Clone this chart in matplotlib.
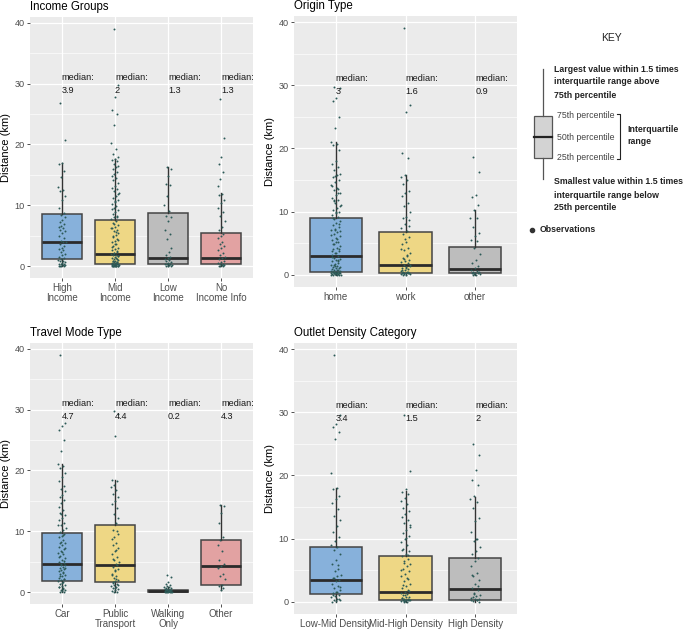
import matplotlib
matplotlib.use("Agg")
import matplotlib.pyplot as plt
from matplotlib.patches import Rectangle
from matplotlib.lines import Line2D
import numpy as np

plt.rcParams['font.family'] = ['Liberation Sans', 'DejaVu Sans']

# ---------------- data ----------------
income_cats = ["High\nIncome", "Mid\nIncome", "Low\nIncome", "No\nIncome Info"]
income_q1 = [1.1, 0.3, 0.3, 0.3]
income_med = [3.9, 2.0, 1.3, 1.3]
income_q3 = [8.5, 7.6, 8.7, 5.5]
income_lo = [0.0, 0.0, 0.0, 0.0]
income_hi = [17.0, 17.6, 16.3, 12.0]
income_obs = [
    [26.8, 20.7, 17.0, 16.8, 15.6, 14.6, 13.0, 12.5, 12.3, 11.6, 10.8, 9.5, 8.7, 8.4, 8.0, 7.6, 7.2, 7.0,
     6.6, 6.4, 6.2, 6.0, 5.8, 5.5, 5.0, 4.6, 4.2, 4.0, 3.9, 3.6, 3.3, 3.0, 2.8, 2.6, 2.3, 2.0, 1.8, 1.5,
     1.3, 1.1, 1.0, 0.9, 0.8, 0.6, 0.5, 0.4, 0.3, 0.3, 0.2, 0.2, 0.1, 0.1, 0.0, 0.0],
    [39.0, 29.7, 27.8, 25.7, 25.0, 23.2, 20.3, 19.3, 18.5, 17.9, 17.6, 17.4, 17.2, 16.8, 16.5, 16.3, 15.9,
     15.5, 15.2, 14.8, 14.5, 14.1, 13.6, 13.2, 12.9, 12.6, 12.3, 12.0, 11.6, 11.2, 10.9, 10.5, 10.2, 9.9,
     9.6, 9.2, 8.9, 8.6, 8.3, 8.0, 7.7, 7.4, 7.1, 6.8, 6.5, 6.2, 6.0, 5.7, 5.4, 5.1, 4.8, 4.5, 4.2, 3.9,
     3.6, 3.3, 3.0, 2.8, 2.6, 2.4, 2.2, 2.0, 1.9, 1.8, 1.6, 1.5, 1.4, 1.2, 1.1, 1.0, 0.9, 0.8, 0.7, 0.6,
     0.5, 0.5, 0.4, 0.4, 0.3, 0.3, 0.3, 0.2, 0.2, 0.2, 0.1, 0.1, 0.1, 0.0, 0.0, 0.0, 11.8, 10.7, 9.4,
     8.1, 7.0, 6.3, 5.6, 4.9, 4.3, 3.7, 3.1, 2.5, 2.1, 1.7, 1.3, 0.9, 0.6, 0.4, 0.2, 0.1, 0.0, 0.0],
    [16.3, 16.0, 14.8, 13.5, 13.4, 11.5, 10.0, 9.0, 8.3, 8.0, 7.4, 6.0, 5.3, 4.5, 3.0, 2.3, 1.8, 1.5,
     1.3, 1.2, 1.0, 0.8, 0.6, 0.5, 0.4, 0.3, 0.3, 0.2, 0.2, 0.1, 0.1, 0.0],
    [27.5, 21.0, 18.0, 16.8, 15.5, 14.4, 13.2, 11.9, 11.7, 10.8, 10.4, 9.6, 8.9, 8.2, 7.5, 6.4, 6.0, 5.3,
     5.0, 4.6, 4.0, 3.7, 3.3, 3.0, 2.6, 2.1, 1.8, 1.5, 1.3, 1.1, 0.9, 0.7, 0.5, 0.4, 0.3, 0.2, 0.2, 0.1,
     0.1, 0.0],
]

origin_cats = ["home", "work", "other"]
origin_q1 = [0.4, 0.3, 0.2]
origin_med = [3.0, 1.6, 0.9]
origin_q3 = [8.9, 6.7, 4.4]
origin_lo = [0.0, 0.0, 0.0]
origin_hi = [21.0, 15.8, 10.2]
origin_obs = [
    [29.7, 29.5, 28.0, 27.5, 25.0, 23.2, 21.0, 20.7, 20.5, 19.8, 18.0, 17.6, 17.0, 16.5, 16.0, 15.8, 15.4,
     15.0, 14.6, 14.2, 13.8, 13.4, 13.0, 12.6, 12.2, 11.8, 11.4, 11.0, 10.6, 10.3, 10.0, 9.7, 9.4, 9.1,
     8.8, 8.5, 8.2, 7.9, 7.6, 7.3, 7.0, 6.7, 6.4, 6.1, 5.8, 5.5, 5.2, 4.9, 4.6, 4.3, 4.0, 3.7, 3.4, 3.1,
     2.9, 2.7, 2.5, 2.3, 2.1, 1.9, 1.7, 1.5, 1.3, 1.2, 1.1, 1.0, 0.9, 0.8, 0.7, 0.6, 0.5, 0.5, 0.4, 0.4,
     0.3, 0.3, 0.2, 0.2, 0.2, 0.1, 0.1, 0.1, 0.0, 0.0, 0.0, 0.0, 15.6, 14.0, 12.9, 11.6, 10.9, 9.9, 9.0,
     8.0, 7.1, 6.3, 5.6, 4.8, 4.1, 3.5, 2.8, 2.2, 1.6, 1.2, 0.8, 0.5, 0.3, 0.1, 0.0, 13.5, 11.9, 6.9,
     5.1, 3.8, 2.4, 1.4, 0.6, 0.2],
    [39.0, 26.8, 25.7, 19.3, 18.5, 15.8, 15.5, 15.0, 14.3, 13.3, 12.9, 12.4, 11.4, 10.8, 10.0, 9.2, 8.9,
     8.6, 8.0, 7.4, 6.9, 6.5, 6.0, 5.2, 4.8, 4.3, 3.9, 3.5, 3.1, 2.7, 2.4, 2.2, 2.0, 1.8, 1.6, 1.4, 1.2,
     1.0, 0.9, 0.8, 0.6, 0.5, 0.4, 0.3, 0.3, 0.2, 0.2, 0.1, 0.1, 0.0, 0.0, 7.7, 5.6, 4.1, 3.0, 2.5,
     1.5, 1.1, 0.7, 0.4, 0.2, 0.1],
    [18.6, 16.3, 12.6, 12.3, 11.0, 10.2, 9.0, 8.9, 7.6, 6.6, 6.2, 5.5, 5.3, 4.2, 3.3, 2.3, 1.8, 1.4, 1.0,
     0.8, 0.6, 0.5, 0.4, 0.3, 0.2, 0.2, 0.1, 0.1, 0.0, 0.0],
]

mode_cats = ["Car", "Public\nTransport", "Walking\nOnly", "Other"]
mode_q1 = [1.9, 1.6, 0.1, 1.2]
mode_med = [4.7, 4.4, 0.2, 4.3]
mode_q3 = [9.7, 11.1, 0.4, 8.6]
mode_lo = [0.0, 0.0, 0.0, 0.3]
mode_hi = [21.0, 18.5, 0.8, 14.3]
mode_obs = [
    [39.0, 27.8, 27.3, 26.7, 25.0, 23.2, 21.0, 20.7, 20.4, 19.6, 19.0, 18.3, 17.5, 17.0, 16.6, 16.0, 15.6,
     15.2, 14.6, 14.0, 13.5, 13.0, 12.6, 12.2, 11.8, 11.4, 11.0, 10.6, 10.2, 9.9, 9.6, 9.3, 9.0, 8.6, 8.3,
     8.0, 7.7, 7.4, 7.1, 6.8, 6.5, 6.2, 5.9, 5.6, 5.3, 5.0, 4.8, 4.6, 4.4, 4.2, 4.0, 3.8, 3.6, 3.4, 3.2,
     3.0, 2.8, 2.6, 2.4, 2.2, 2.0, 1.8, 1.6, 1.4, 1.2, 1.0, 0.8, 0.6, 0.4, 0.3, 0.2, 0.1, 0.0, 12.9, 11.1,
     9.4, 8.1, 7.3, 6.6, 5.7, 5.1, 4.5, 3.9, 3.3, 2.7, 2.1, 1.5, 0.9, 0.5],
    [29.7, 29.3, 25.7, 18.5, 18.2, 17.6, 17.2, 16.8, 16.2, 15.7, 15.0, 14.5, 13.8, 12.8, 12.2, 11.3, 10.2,
     10.0, 9.1, 8.8, 8.1, 7.8, 7.3, 6.8, 6.3, 5.8, 5.3, 4.9, 4.6, 4.2, 3.8, 3.4, 3.0, 2.6, 2.3, 2.0, 1.8,
     1.6, 1.4, 1.2, 1.0, 0.8, 0.6, 0.5, 0.3, 0.2, 0.1, 0.0, 9.6, 7.0, 5.5, 4.4, 3.6, 2.8, 2.2, 1.5,
     1.1, 0.7],
    [2.8, 2.5, 1.6, 1.4, 1.2, 1.0, 0.9, 0.8, 0.7, 0.6, 0.5, 0.5, 0.4, 0.4, 0.3, 0.3, 0.3, 0.2, 0.2, 0.2,
     0.2, 0.1, 0.1, 0.1, 0.1, 0.0, 0.0, 0.0],
    [14.3, 14.1, 13.0, 11.3, 9.0, 8.5, 7.7, 6.7, 5.3, 4.6, 4.3, 3.9, 3.0, 2.6, 2.2, 1.2, 1.0, 0.6, 0.4],
]

density_cats = ["Low-Mid Density", "Mid-High Density", "High Density"]
density_q1 = [1.2, 0.3, 0.3]
density_med = [3.4, 1.5, 2.0]
density_q3 = [8.7, 7.2, 6.9]
density_lo = [0.0, 0.0, 0.0]
density_hi = [18.0, 17.5, 16.5]
density_obs = [
    [39.0, 29.6, 28.2, 27.6, 26.8, 25.7, 20.3, 18.0, 17.8, 16.8, 16.2, 15.6, 14.6, 13.5, 13.0, 12.0, 11.0,
     10.2, 9.6, 8.9, 8.6, 8.2, 7.6, 6.6, 6.0, 5.2, 4.8, 4.3, 4.0, 3.8, 3.5, 3.2, 2.8, 2.5, 2.1, 1.8, 1.5,
     1.3, 1.1, 0.9, 0.7, 0.5, 0.3, 0.2, 0.1, 0.0, 5.8, 3.7, 2.3, 1.6, 1.0, 0.4],
    [29.6, 20.7, 17.8, 17.3, 17.0, 16.4, 15.9, 15.4, 14.9, 14.4, 13.9, 13.4, 12.9, 12.4, 11.9, 11.4, 10.9,
     10.4, 9.9, 9.4, 8.9, 8.4, 8.0, 7.6, 7.2, 6.8, 6.4, 6.0, 5.6, 5.2, 4.8, 4.4, 4.0, 3.6, 3.2, 2.8, 2.5,
     2.2, 1.9, 1.6, 1.4, 1.2, 1.0, 0.8, 0.7, 0.6, 0.5, 0.4, 0.3, 0.3, 0.2, 0.2, 0.1, 0.1, 0.0, 0.0,
     12.1, 10.1, 8.2, 7.4, 6.2, 5.0, 3.8, 2.6, 1.7, 1.1, 0.6, 0.3, 0.1],
    [25.0, 23.2, 20.9, 19.3, 18.5, 16.8, 16.2, 15.8, 14.8, 13.3, 12.8, 11.0, 10.0, 9.6, 8.6, 8.0, 7.6,
     6.9, 6.4, 5.6, 4.6, 4.0, 3.4, 2.8, 2.2, 1.8, 1.4, 1.1, 0.9, 0.7, 0.5, 0.4, 0.3, 0.2, 0.1, 0.0,
     9.9, 4.3, 2.5, 1.2, 0.6, 0.2],
]

titles = ["Income Groups", "Origin Type", "Travel Mode Type", "Outlet Density Category"]
fill_colors = ["#87B1DB", "#EED785", "#BDBDBD", "#E2A2A2"]
point_color = "#2C5A57"

W, H = 685, 629
fig = plt.figure(figsize=(W / 100, H / 100), dpi=100)


def px_rect(x0, y0, x1, y1):
    return [x0 / W, 1 - y1 / H, (x1 - x0) / W, (y1 - y0) / H]


panels = [
    (px_rect(30, 17, 253, 278), income_cats, income_q1, income_med, income_q3, income_lo, income_hi, income_obs),
    (px_rect(294, 16, 517, 287), origin_cats, origin_q1, origin_med, origin_q3, origin_lo, origin_hi, origin_obs),
    (px_rect(30, 343, 253, 604), mode_cats, mode_q1, mode_med, mode_q3, mode_lo, mode_hi, mode_obs),
    (px_rect(294, 343, 517, 614), density_cats, density_q1, density_med, density_q3, density_lo, density_hi, density_obs),
]

for (rect, cats, q1, med, q3, lo, hi, obs), title in zip(panels, titles):
    ax = fig.add_axes(rect)
    ax.set_facecolor("#EBEBEB")
    n = len(cats)
    pos = np.arange(1, n + 1)
    ax.set_xlim(0.4, n + 0.6)
    ax.set_ylim(-1.95, 40.95)
    ax.set_axisbelow(True)
    ax.set_yticks([0, 10, 20, 30, 40])
    ax.set_yticks([5, 15, 25, 35], minor=True)
    ax.set_xticks(pos)
    ax.set_xticklabels(cats, fontsize=7.0, color="#4D4D4D", linespacing=1.0)
    ax.tick_params(axis="y", labelsize=6.6, labelcolor="#4D4D4D")
    ax.tick_params(which="major", length=2.5, width=0.6, color="#333333", pad=1.2)
    ax.tick_params(which="minor", length=0)
    ax.grid(True, which="major", color="white", lw=0.9)
    ax.grid(True, which="minor", axis="y", color="white", lw=0.45)
    for s in ax.spines.values():
        s.set_visible(False)
    stats = [dict(q1=q1[i], med=med[i], q3=q3[i], whislo=lo[i], whishi=hi[i], fliers=[]) for i in range(n)]
    bp = ax.bxp(stats, positions=pos, widths=0.75, patch_artist=True, showcaps=False,
                boxprops=dict(edgecolor="#444444", linewidth=1.1),
                whiskerprops=dict(color="#333333", linewidth=1.0),
                medianprops=dict(color="#2b2b2b", linewidth=2.0),
                manage_ticks=False, zorder=2)
    for i, b in enumerate(bp["boxes"]):
        b.set_facecolor(fill_colors[i % len(fill_colors)])
    for i in range(n):
        vals = np.asarray(obs[i])
        k = np.arange(len(vals))
        jit = ((k * 0.6180339887 + 0.31) % 1.0 - 0.5) * 0.14
        ax.scatter(pos[i] + jit, vals, s=2.0, color=point_color, zorder=3, linewidths=0)
        ax.text(pos[i], 30.0, "median:\n%s" % format(med[i], "g"), fontsize=6.6,
                ha="left", va="center", color="#1a1a1a", linespacing=1.55, zorder=4)
    ax.set_ylabel("Distance (km)", fontsize=8.0)
    ax.yaxis.label.set_va("center")
    ax.yaxis.set_label_coords(-24 / 223, 0.5)
    ax.set_title(title, loc="left", fontsize=8.3, pad=5)

# ---------------- key ----------------
kx = fig.add_axes([0, 0, 1, 1])
kx.set_xlim(0, W)
kx.set_ylim(H, 0)
kx.axis("off")
kx.text(612, 38, "KEY", ha="center", va="center", fontsize=7.5, color="#222222")
kx.add_line(Line2D([543, 543], [69, 116], color="#555555", lw=0.9))
kx.add_line(Line2D([543, 543], [158, 179], color="#555555", lw=0.9))
kx.add_patch(Rectangle((534, 116), 18, 42, facecolor="#D3D3D3", edgecolor="#555555", lw=0.9))
kx.add_line(Line2D([534, 552], [137, 137], color="#222222", lw=1.6))
bold = dict(fontsize=6.3, fontweight="bold", color="#222222", va="center", ha="left")
kx.text(554, 69, "Largest value within 1.5 times", **bold)
kx.text(554, 82, "interquartile range above", **bold)
kx.text(554, 95, "75th percentile", **bold)
norm = dict(fontsize=6.3, color="#444444", va="center", ha="left")
kx.text(557, 115, "75th percentile", **norm)
kx.text(557, 137, "50th percentile", **norm)
kx.text(557, 158, "25th percentile", **norm)
kx.add_line(Line2D([617, 620, 620, 617], [114, 114, 159, 159], color="#222222", lw=0.8))
kx.text(627, 129, "Interquartile", **bold)
kx.text(627, 142, "range", **bold)
kx.text(554, 182, "Smallest value within 1.5 times", **bold)
kx.text(554, 195, "interquartile range below", **bold)
kx.text(554, 208, "25th percentile", **bold)
kx.add_line(Line2D([532], [230], marker="o", markersize=3, color="#333333", lw=0))
kx.text(540, 230, "Observations", **bold)

fig.savefig("out.png", dpi=100)
